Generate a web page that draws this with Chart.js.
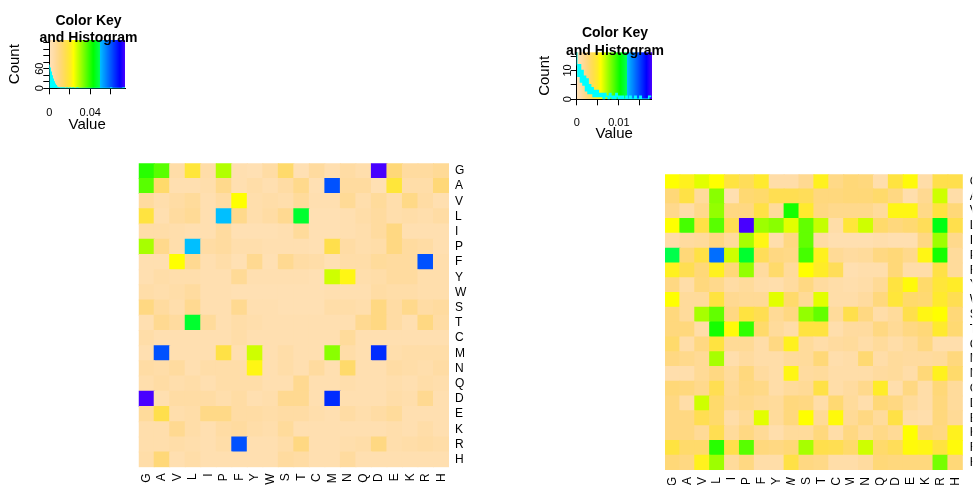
<!DOCTYPE html>
<html>
<head>
<meta charset="utf-8">
<script src="https://cdn.jsdelivr.net/npm/chart.js@4.4.1/dist/chart.umd.min.js"></script>
<style>
  html, body { margin: 0; padding: 0; background: #fff; width: 977px; height: 485px; overflow: hidden; }
  body { position: relative; }
  canvas { position: absolute; }
</style>
</head>
<body>
<canvas id="keyLeft" width="177" height="140" style="left:0px;top:0px"></canvas>
<canvas id="keyRight" width="170" height="140" style="left:530px;top:12px"></canvas>
<canvas id="heatLeft" width="340" height="335" style="left:130px;top:150px"></canvas>
<canvas id="heatRight" width="322" height="325" style="left:655px;top:160px"></canvas>
<script>
// amino acid order, rows top to bottom and columns left to right
const rowLabels = ['G', 'A', 'V', 'L', 'I', 'P', 'F', 'Y', 'W', 'S', 'T', 'C', 'M', 'N', 'Q', 'D', 'E', 'K', 'R', 'H'];
const colLabels = ['G', 'A', 'V', 'L', 'I', 'P', 'F', 'Y', 'W', 'S', 'T', 'C', 'M', 'N', 'Q', 'D', 'E', 'K', 'R', 'H'];

// colour key ranges (Value axis)
const leftKeyMax = 0.074;
const rightKeyMax = 0.0178;

// cell values, in percent of the colour key range
const leftPct = [
  [54, 49, 5, 25, 5, 40, 3, 2, 6, 17, 2, 7, 3, 6, 4, 100, 15, 7, 7, 9],
  [49, 17, 3, 3, 4, 11, 3, 5, 3, 6, 11, 2, 82, 7, 7, 2, 25, 5, 5, 15],
  [7, 4, 6, 8, 3, 6, 32, 4, 5, 4, 8, 3, 3, 9, 4, 8, 4, 12, 6, 3],
  [24, 3, 7, 9, 3, 67, 11, 4, 6, 10, 63, 2, 2, 3, 5, 7, 4, 5, 4, 6],
  [5, 5, 4, 3, 3, 7, 2, 2, 2, 3, 8, 2, 2, 3, 4, 7, 13, 3, 3, 3],
  [41, 11, 4, 67, 6, 7, 4, 4, 3, 3, 3, 2, 22, 6, 4, 5, 13, 7, 6, 3],
  [3, 3, 32, 10, 3, 5, 2, 10, 2, 10, 6, 5, 2, 5, 5, 8, 7, 7, 82, 4],
  [3, 5, 4, 4, 3, 3, 9, 3, 3, 3, 3, 2, 37, 30, 4, 5, 7, 7, 4, 4],
  [5, 4, 5, 7, 3, 3, 2, 2, 2, 2, 2, 2, 3, 3, 3, 6, 5, 5, 4, 4],
  [13, 7, 4, 10, 3, 3, 10, 3, 3, 2, 2, 2, 5, 5, 4, 13, 6, 11, 6, 7],
  [3, 10, 7, 63, 8, 3, 5, 4, 3, 3, 3, 3, 3, 3, 10, 13, 6, 3, 13, 6],
  [5, 3, 3, 3, 3, 3, 5, 3, 3, 3, 3, 3, 3, 8, 3, 3, 3, 3, 3, 3],
  [3, 82, 3, 3, 3, 23, 3, 37, 3, 5, 3, 3, 44, 5, 3, 87, 4, 5, 5, 5],
  [6, 5, 7, 3, 5, 5, 5, 30, 3, 5, 3, 7, 3, 17, 3, 3, 6, 5, 4, 6],
  [4, 6, 4, 5, 3, 5, 5, 5, 3, 3, 10, 3, 3, 4, 3, 3, 4, 3, 5, 4],
  [100, 3, 6, 6, 6, 4, 6, 3, 4, 10, 10, 3, 87, 3, 3, 3, 5, 4, 10, 3],
  [8, 22, 4, 5, 12, 12, 6, 6, 5, 6, 6, 4, 3, 6, 4, 6, 8, 3, 3, 3],
  [4, 4, 10, 5, 3, 6, 7, 5, 4, 8, 3, 3, 3, 3, 3, 3, 4, 3, 5, 3],
  [4, 4, 5, 4, 3, 5, 82, 3, 3, 5, 13, 3, 3, 4, 5, 13, 4, 5, 6, 5],
  [5, 15, 3, 5, 3, 3, 3, 3, 3, 7, 6, 3, 3, 7, 3, 3, 3, 3, 3, 3]
];

const rightPct = [
  [32, 29, 35, 32, 24, 20, 27, 5, 5, 10, 29, 12, 15, 14, 4, 24, 31, 5, 22, 22],
  [15, 23, 8, 44, 3, 16, 17, 21, 21, 20, 14, 14, 15, 15, 17, 13, 4, 10, 37, 5],
  [11, 5, 11, 43, 13, 13, 23, 8, 56, 27, 13, 11, 11, 11, 8, 30, 30, 12, 24, 15],
  [32, 51, 23, 49, 21, 100, 42, 44, 35, 48, 38, 5, 25, 37, 17, 14, 16, 20, 60, 22],
  [5, 7, 8, 13, 8, 41, 30, 4, 13, 48, 6, 3, 3, 3, 4, 3, 3, 13, 42, 11],
  [66, 15, 23, 78, 37, 63, 20, 13, 12, 51, 29, 9, 7, 8, 13, 15, 11, 30, 56, 8],
  [29, 21, 15, 29, 15, 43, 7, 17, 8, 32, 28, 20, 3, 4, 4, 15, 5, 5, 23, 8],
  [13, 5, 14, 11, 6, 8, 5, 4, 7, 13, 7, 5, 4, 5, 9, 24, 31, 17, 25, 28],
  [32, 8, 8, 24, 10, 9, 9, 35, 17, 9, 35, 5, 5, 7, 14, 25, 17, 16, 27, 21],
  [14, 8, 41, 48, 13, 24, 21, 9, 13, 43, 48, 8, 22, 13, 5, 8, 22, 30, 32, 15],
  [14, 14, 5, 56, 31, 53, 17, 8, 5, 24, 24, 4, 7, 7, 13, 9, 13, 15, 27, 16],
  [17, 5, 13, 24, 9, 9, 5, 13, 29, 8, 5, 7, 8, 5, 8, 5, 8, 13, 4, 4],
  [13, 11, 9, 41, 4, 7, 5, 5, 8, 8, 15, 4, 5, 16, 5, 8, 7, 7, 8, 14],
  [4, 4, 9, 13, 8, 14, 7, 5, 30, 7, 8, 5, 5, 5, 7, 8, 5, 15, 29, 17],
  [15, 14, 11, 21, 9, 13, 12, 5, 8, 9, 23, 5, 7, 11, 28, 4, 13, 5, 15, 8],
  [13, 5, 37, 17, 10, 11, 9, 8, 14, 13, 5, 16, 8, 4, 15, 13, 8, 5, 14, 8],
  [13, 13, 21, 17, 5, 9, 35, 8, 14, 32, 9, 31, 9, 13, 8, 23, 5, 4, 14, 9],
  [13, 13, 9, 21, 8, 13, 9, 4, 8, 8, 14, 5, 13, 8, 12, 9, 32, 15, 13, 29],
  [24, 17, 17, 54, 22, 49, 14, 13, 15, 41, 22, 21, 17, 37, 17, 20, 31, 30, 24, 31],
  [15, 13, 29, 42, 8, 13, 5, 5, 23, 13, 12, 5, 5, 7, 15, 14, 14, 14, 46, 15]
];

// histogram counts in the colour keys
const leftBinWidth = 0.001;
const leftCounts = [73, 62, 50, 38, 28, 20, 13, 8, 4, 2, 1, 1, 0, 1, 0, 1, 0, 0, 1, 0,
  0, 1, 0, 0, 1, 0, 0, 0, 1, 0, 0, 0, 0, 0, 0, 0, 0, 0, 0, 0,
  0, 0, 0, 0, 0, 0, 0, 0, 0, 0, 0, 0, 0, 0, 0, 0, 0, 0, 0, 0,
  0, 1, 0, 0, 0, 0, 0, 0, 0, 0, 0, 0, 0, 1];
const rightBinWidth = 0.0003;
const rightCounts = [18, 12, 8, 12, 6, 10, 5, 8, 3, 7, 2, 5, 2, 4, 1, 3, 1, 3, 1, 2,
  1, 2, 0, 2, 1, 1, 0, 2, 1, 0, 1, 0, 2, 1, 0, 1, 0, 1, 0, 0,
  1, 0, 0, 1, 0, 0, 0, 1, 0, 0, 0, 1, 0, 0, 0, 0, 0, 0, 1];

// tick values of the keys
const leftValueTicks = [0, 0.02, 0.04, 0.06];
const leftValueLabels = [0, 0.04];
const leftCountTicks = [0, 20, 40, 60, 80, 100, 120, 140];
const leftCountLabels = [0, 60];
const rightValueTicks = [0, 0.005, 0.01, 0.015];
const rightValueLabels = [0, 0.01];
const rightCountTicks = [0, 5, 10, 15];
const rightCountLabels = [0, 10];

// colour ramp: navajowhite -> yellow -> green | deepskyblue -> blue -> violet
const paletteStops = [
  [0.00, [255, 226, 184]],
  [0.03, [255, 223, 176]],
  [0.06, [255, 220, 164]],
  [0.10, [255, 217, 145]],
  [0.15, [255, 216, 120]],
  [0.22, [255, 223, 76]],
  [0.28, [255, 236, 40]],
  [0.32, [255, 255, 0]],
  [0.58, [0, 255, 0]],
  [0.665, [0, 255, 80]],
  [0.67, [0, 191, 255]],
  [0.93, [0, 0, 255]],
  [1.00, [72, 0, 255]]
];

function keyColor(t) {
  t = Math.max(0, Math.min(1, t));
  for (let i = 1; i < paletteStops.length; i++) {
    const [t1, c1] = paletteStops[i];
    if (t <= t1) {
      const [t0, c0] = paletteStops[i - 1];
      const f = (t - t0) / (t1 - t0);
      return 'rgb(' + c0.map((c, j) => Math.round(c + (c1[j] - c) * f)).join(',') + ')';
    }
  }
  return 'rgb(72,0,255)';
}

Chart.defaults.font.family = '"Liberation Sans", Arial, Helvetica, sans-serif';
Chart.defaults.color = '#000';

// paints the colour ramp behind the histogram
const gradientPlugin = {
  id: 'keyGradient',
  beforeDraw(chart, args, opts) {
    const {ctx, chartArea: a, scales: {x}} = chart;
    ctx.save();
    for (let px = Math.floor(a.left); px < a.right; px++) {
      const v = x.getValueForPixel(px + 0.5);
      ctx.fillStyle = keyColor(v / opts.max);
      ctx.fillRect(px, a.top, 1, a.bottom - a.top);
    }
    ctx.restore();
  }
};

// rotated count labels, like R's axis(2)
const countLabelsPlugin = {
  id: 'countLabels',
  afterDraw(chart, args, opts) {
    const {ctx, chartArea: a, scales: {y}} = chart;
    ctx.save();
    ctx.font = '11px "Liberation Sans", Arial, sans-serif';
    ctx.fillStyle = '#000';
    ctx.textAlign = 'center';
    ctx.textBaseline = 'middle';
    opts.labels.forEach(v => {
      ctx.save();
      ctx.translate(a.left - 9, y.getPixelForValue(v));
      ctx.rotate(-Math.PI / 2);
      ctx.fillText(String(v), 0, 0);
      ctx.restore();
    });
    ctx.restore();
  }
};

function colorKey(id, o) {
  const pts = o.counts.map((c, i) => ({x: i * o.binWidth, y: c}));
  pts.push({x: o.counts.length * o.binWidth, y: o.counts[o.counts.length - 1]});

  new Chart(document.getElementById(id), {
    type: 'line',
    data: {
      datasets: [{
        data: pts,
        stepped: 'after',
        borderColor: '#00FFFF',
        backgroundColor: '#00FFFF',
        fill: o.fill ? 'origin' : false,
        borderWidth: o.lineWidth,
        pointRadius: 0
      }]
    },
    options: {
      responsive: false,
      animation: false,
      devicePixelRatio: 1,
      layout: {padding: 0},
      plugins: {
        legend: {display: false},
        tooltip: {enabled: false},
        title: {
          display: true,
          text: ['Color Key', 'and Histogram'],
          color: '#000',
          font: {size: 14, weight: 'bold', lineHeight: 1.25},
          padding: o.titlePad
        },
        keyGradient: {max: o.max},
        countLabels: {labels: o.countLabels}
      },
      scales: {
        x: {
          type: 'linear',
          min: 0,
          max: o.max,
          afterBuildTicks: s => { s.ticks = o.valueTicks.map(v => ({value: v})); },
          ticks: {
            callback: v => o.valueLabels.includes(v) ? String(v) : '',
            font: {size: 11},
            color: '#000',
            padding: o.tickPad,
            maxRotation: 0,
            autoSkip: false
          },
          grid: {drawOnChartArea: false, drawTicks: true, tickLength: 6, color: '#000'},
          border: {display: true, color: '#000'},
          title: {display: true, text: 'Value', color: '#000', font: {size: 15}, padding: {top: 0, bottom: o.valuePad}},
          afterFit: s => { s.height = o.xHeight; }
        },
        y: {
          type: 'linear',
          min: 0,
          max: o.countMax,
          afterBuildTicks: s => { s.ticks = o.countTicks.map(v => ({value: v})); },
          ticks: {display: false},
          grid: {drawOnChartArea: false, drawTicks: true, tickLength: 6, color: '#000'},
          border: {display: true, color: '#000'},
          title: {display: true, text: 'Count', color: '#000', font: {size: 15}, padding: {top: o.countPad, bottom: 0}},
          afterFit: s => { s.width = o.yWidth; }
        },
        yPad: {
          type: 'linear',
          position: 'right',
          display: true,
          ticks: {display: false},
          grid: {display: false, drawTicks: false},
          border: {display: false},
          afterFit: s => { s.width = o.rightWidth; }
        }
      }
    },
    plugins: [gradientPlugin, countLabelsPlugin]
  });
}

function heatmap(id, pct, keyMax, o) {
  const values = pct.map(r => r.map(p => p / 100 * keyMax));
  // stacked from the bottom, so the last row goes first
  const datasets = rowLabels.map((r, i) => ({
    label: r,
    data: colLabels.map(() => 1),
    backgroundColor: values[i].map(v => keyColor(v / keyMax)),
    borderWidth: 0,
    barPercentage: 1,
    categoryPercentage: 1,
    inflateAmount: 0.5
  })).reverse();

  new Chart(document.getElementById(id), {
    type: 'bar',
    data: {labels: colLabels, datasets},
    options: {
      responsive: false,
      animation: false,
      devicePixelRatio: 1,
      layout: {padding: {left: o.padLeft, top: o.padTop, right: 0, bottom: 0}},
      plugins: {legend: {display: false}, tooltip: {enabled: false}},
      scales: {
        x: {
          stacked: true,
          grid: {display: false, drawTicks: false},
          border: {display: false},
          ticks: {font: {size: 12}, color: '#000', minRotation: 90, maxRotation: 90, autoSkip: false, padding: o.xPad},
          afterFit: s => { s.height = o.xHeight; }
        },
        y: {
          stacked: true,
          position: 'right',
          min: 0,
          max: rowLabels.length,
          grid: {display: false, drawTicks: false},
          border: {display: false},
          afterBuildTicks: s => { s.ticks = rowLabels.map((r, i) => ({value: rowLabels.length - 0.5 - i})); },
          ticks: {
            font: {size: 12},
            color: '#000',
            autoSkip: false,
            padding: o.yPad,
            callback: v => rowLabels[Math.round(rowLabels.length - 0.5 - v)]
          },
          afterFit: s => { s.width = o.yWidth; }
        }
      }
    }
  });
}

colorKey('keyLeft', {
  counts: leftCounts, binWidth: leftBinWidth, fill: true, lineWidth: 1.2,
  max: leftKeyMax, countMax: 148,
  valueTicks: leftValueTicks, valueLabels: leftValueLabels,
  countTicks: leftCountTicks, countLabels: leftCountLabels,
  titlePad: {top: 12, bottom: -7},
  yWidth: 49.3, rightWidth: 52, xHeight: 51.7,
  valuePad: 5.7, countPad: 6, tickPad: 11.8
});

colorKey('keyRight', {
  counts: rightCounts, binWidth: rightBinWidth, fill: false, lineWidth: 1.6,
  max: rightKeyMax, countMax: 16.3,
  valueTicks: rightValueTicks, valueLabels: rightValueLabels,
  countTicks: rightCountTicks, countLabels: rightCountLabels,
  titlePad: {top: 12.5, bottom: -7.2},
  yWidth: 46.7, rightWidth: 48.3, xHeight: 52.7,
  valuePad: 9, countPad: 6, tickPad: 11.1
});

heatmap('heatLeft', leftPct, leftKeyMax, {
  padLeft: 8.7, padTop: 6.7, yWidth: 21, xHeight: 17.7, xPad: 6, yPad: 6
});

heatmap('heatRight', rightPct, rightKeyMax, {
  padLeft: 10, padTop: 6.7, yWidth: 9.3, xHeight: 15, xPad: 7, yPad: 7
});
</script>
</body>
</html>
